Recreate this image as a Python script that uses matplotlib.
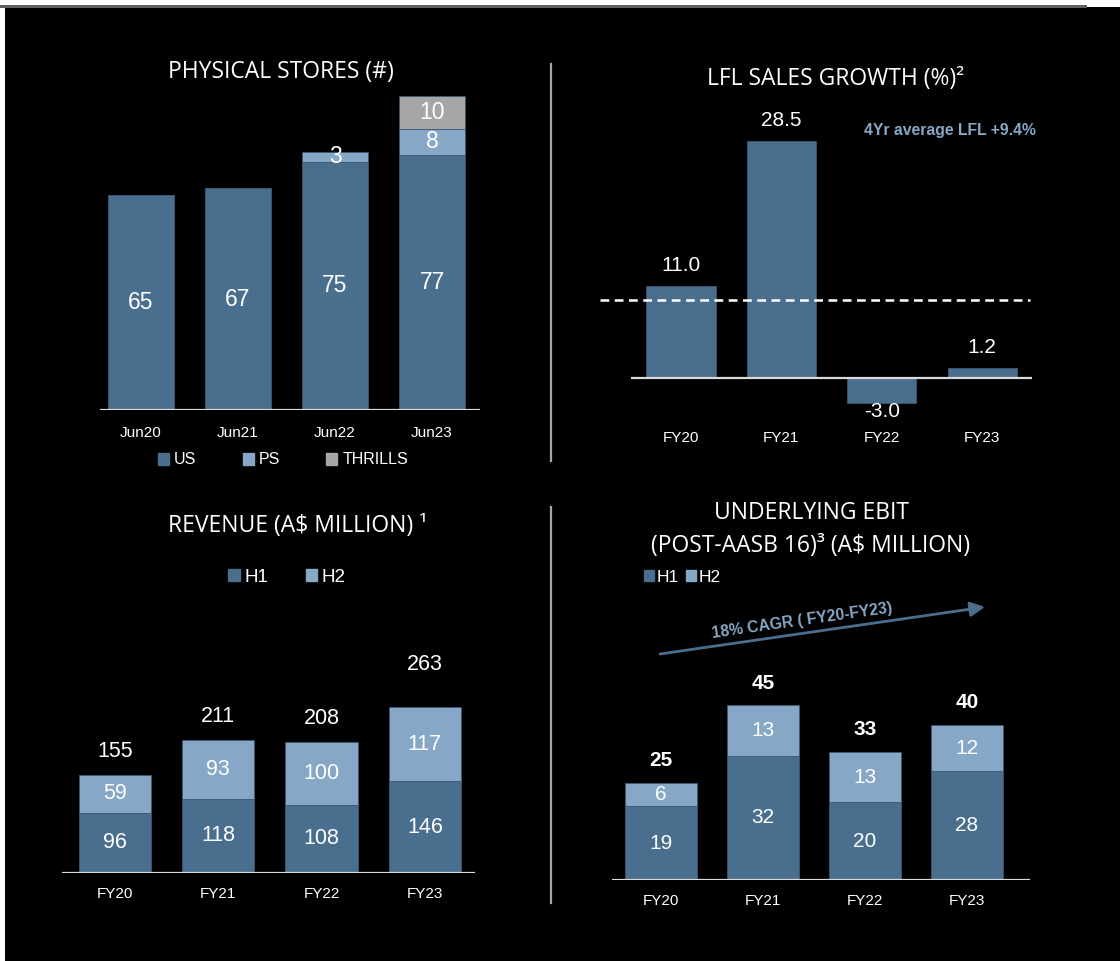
import matplotlib
matplotlib.use("Agg")
import matplotlib.pyplot as plt
import matplotlib.transforms as mtransforms
from matplotlib.patches import Patch, Rectangle
from matplotlib.lines import Line2D

# ---------------- data ----------------
store_periods = ["Jun20", "Jun21", "Jun22", "Jun23"]
stores_us = [65, 67, 75, 77]
stores_ps = [0, 0, 3, 8]
stores_thrills = [0, 0, 0, 10]

lfl_years = ["FY20", "FY21", "FY22", "FY23"]
lfl_growth = [11.0, 28.5, -3.0, 1.2]
lfl_avg = 9.4

rev_years = ["FY20", "FY21", "FY22", "FY23"]
rev_h1 = [96, 118, 108, 146]
rev_h2 = [59, 93, 100, 117]
rev_total = [155, 211, 208, 263]

ebit_years = ["FY20", "FY21", "FY22", "FY23"]
ebit_h1 = [19, 32, 20, 28]
ebit_h2 = [6, 13, 13, 12]
ebit_total = [25, 45, 33, 40]

# ---------------- style ----------------
W, H = 1120, 961
DARK = "#4a6e8e"
LIGHT = "#86a8c6"
GREY = "#a6a6a6"
EDGE = "#3b5873"
ACCENT = "#86a8c6"
TITLE_FONT = ["Open Sans", "DejaVu Sans"]
NUM_FONT = ["Liberation Sans", "DejaVu Sans"]
TITLE_SIZE = 16.5

plt.rcParams["font.family"] = NUM_FONT

fig = plt.figure(figsize=(W / 100, H / 100), dpi=100)
fig.patch.set_facecolor("white")
fig.add_artist(Rectangle((5 / W, 0), 1 - 5 / W, 1 - 7 / H, transform=fig.transFigure,
                         facecolor="black", edgecolor="none", zorder=0))
fig.add_artist(Line2D([0, 1085 / W], [1 - 5.5 / H, 1 - 5.5 / H], transform=fig.transFigure,
                      color="#5f5f5f", lw=2.2))


def fy(ypx):
    return 1 - ypx / H


def px_axes(x0, y0, x1, y1):
    ax = fig.add_axes([x0 / W, 1 - y1 / H, (x1 - x0) / W, (y1 - y0) / H])
    ax.set_facecolor("none")
    for s in ax.spines.values():
        s.set_visible(False)
    ax.set_xticks([])
    ax.set_yticks([])
    return ax


def cat_labels(ax, labels, ypx, size=11):
    tr = mtransforms.blended_transform_factory(ax.transData, fig.transFigure)
    for i, lab in enumerate(labels):
        ax.text(i, fy(ypx), lab, transform=tr, ha="center", va="center",
                color="white", fontsize=size, family=NUM_FONT)


def title(xpx, ypx, s, size=TITLE_SIZE):
    fig.text(xpx / W, fy(ypx), s, ha="center", va="center", color="white",
             fontsize=size, family=TITLE_FONT)


def vline(xpx, y0, y1):
    fig.add_artist(Line2D([xpx / W, xpx / W], [fy(y0), fy(y1)], transform=fig.transFigure,
                          color=GREY, lw=1.6))


vline(551, 64, 461)
vline(551, 507, 903)

# ---------------- Panel 1: physical stores ----------------
scale1 = 3.31  # px per store
c0, sp = 141, 97
ax1 = px_axes(100, 60, 480, 410)
ax1.set_xlim((100 - c0) / sp, (480 - c0) / sp)
ax1.set_ylim(0, (410 - 60) / scale1)
x = list(range(len(store_periods)))
bw = 0.69
ax1.bar(x, stores_us, width=bw, color=DARK, edgecolor=EDGE, lw=0.6)
bottom_ps = stores_us
ax1.bar(x, stores_ps, width=bw, bottom=bottom_ps, color=LIGHT, edgecolor=EDGE, lw=0.6)
bottom_th = [a + b for a, b in zip(stores_us, stores_ps)]
ax1.bar(x, stores_thrills, width=bw, bottom=bottom_th, color=GREY, edgecolor=EDGE, lw=0.6)
ax1.axhline(0, color="#d9d9d9", lw=1.6)
VS1 = 16.5
for i in x:
    ax1.text(i, stores_us[i] / 2, str(stores_us[i]), ha="center", va="center", color="white", fontsize=VS1)
    if stores_ps[i]:
        ax1.text(i, bottom_ps[i] + stores_ps[i] / 2, str(stores_ps[i]), ha="center", va="center",
                 color="white", fontsize=VS1)
    if stores_thrills[i]:
        ax1.text(i, bottom_th[i] + stores_thrills[i] / 2, str(stores_thrills[i]), ha="center",
                 va="center", color="white", fontsize=VS1)
cat_labels(ax1, store_periods, 433)
fig.legend(handles=[Patch(color=DARK, label="US"), Patch(color=LIGHT, label="PS"),
                    Patch(color=GREY, label="THRILLS")],
           loc="center", bbox_to_anchor=(283 / W, fy(460)), ncol=3, frameon=False,
           fontsize=11.5, handlelength=0.7, handleheight=0.7, handletextpad=0.3,
           columnspacing=2.9, labelcolor="white")
title(281, 72, "PHYSICAL STORES (#)")

# ---------------- Panel 2: LFL growth ----------------
scale2 = 8.32
c0, sp = 681, 100.4
ax2 = px_axes(600, 90, 1035, 430)
ax2.set_xlim((600 - c0) / sp, (1035 - c0) / sp)
ax2.set_ylim(-(430 - 378) / scale2, (378 - 90) / scale2)
x = list(range(len(lfl_years)))
ax2.bar(x, lfl_growth, width=0.69, color=DARK, edgecolor=EDGE, lw=0.6)
ax2.hlines(0, (631 - c0) / sp, (1032 - c0) / sp, color="#d9d9d9", lw=1.6)
ax2.hlines(lfl_avg, (600 - c0) / sp, (1030 - c0) / sp, color="white", lw=1.8,
           linestyles=(0, (3.5, 2.2)))
for i, v in enumerate(lfl_growth):
    if v >= 0:
        ax2.annotate(f"{v:.1f}", (i, v), xytext=(0, 8), textcoords="offset points",
                     ha="center", va="bottom", color="white", fontsize=15)
    else:
        ax2.annotate(f"{v:.1f}", (i, v), xytext=(0, 1), textcoords="offset points",
                     ha="center", va="top", color="white", fontsize=15)
cat_labels(ax2, lfl_years, 438)
fig.text(950 / W, fy(131), f"4Yr average LFL +{lfl_avg}%", ha="center", va="center",
         color=ACCENT, fontsize=11.3, fontweight="bold", family=NUM_FONT)
title(836, 79, "LFL SALES GROWTH (%)²")

# ---------------- Panel 3: revenue ----------------
scale3 = 0.63
c0, sp = 115, 103.3
ax3 = px_axes(62, 600, 475, 873)
ax3.set_xlim((62 - c0) / sp, (475 - c0) / sp)
ax3.set_ylim(0, (873 - 600) / scale3)
x = list(range(len(rev_years)))
ax3.bar(x, rev_h1, width=0.70, color=DARK, edgecolor=EDGE, lw=0.6)
ax3.bar(x, rev_h2, width=0.70, bottom=rev_h1, color=LIGHT, edgecolor=EDGE, lw=0.6)
ax3.axhline(0, color="#d9d9d9", lw=1.6)
rev_total_offsets = [17, 17, 17, 31]  # points above bar top
for i in x:
    ax3.text(i, rev_h1[i] / 2, str(rev_h1[i]), ha="center", va="center", color="white", fontsize=15.5)
    ax3.text(i, rev_h1[i] + rev_h2[i] / 2, str(rev_h2[i]), ha="center", va="center",
             color="white", fontsize=15.5)
    ax3.annotate(str(rev_total[i]), (i, rev_h1[i] + rev_h2[i]), xytext=(0, rev_total_offsets[i]),
                 textcoords="offset points", ha="center", va="center", color="white", fontsize=15.5)
cat_labels(ax3, rev_years, 894)
title(298, 526, "REVENUE (A$ MILLION) ¹")
fig.legend(handles=[Patch(color=DARK, label="H1"), Patch(color=LIGHT, label="H2")],
           loc="center", bbox_to_anchor=(287 / W, fy(577)), ncol=2, frameon=False,
           fontsize=13.5, handlelength=0.6, handleheight=0.6, handletextpad=0.25,
           columnspacing=2.0, labelcolor="white")

# ---------------- Panel 4: EBIT ----------------
scale4 = 3.88
c0, sp = 661, 102
ax4 = px_axes(612, 600, 1030, 880)
ax4.set_xlim((612 - c0) / sp, (1030 - c0) / sp)
ax4.set_ylim(0, (880 - 600) / scale4)
x = list(range(len(ebit_years)))
ax4.bar(x, ebit_h1, width=0.70, color=DARK, edgecolor=EDGE, lw=0.6)
ax4.bar(x, ebit_h2, width=0.70, bottom=ebit_h1, color=LIGHT, edgecolor=EDGE, lw=0.6)
ax4.axhline(0, color="#d9d9d9", lw=1.6)
for i in x:
    ax4.text(i, ebit_h1[i] / 2, str(ebit_h1[i]), ha="center", va="center", color="white", fontsize=15)
    ax4.text(i, ebit_h1[i] + ebit_h2[i] / 2, str(ebit_h2[i]), ha="center", va="center",
             color="white", fontsize=15)
    ax4.annotate(str(ebit_total[i]), (i, ebit_h1[i] + ebit_h2[i]), xytext=(0, 16),
                 textcoords="offset points", ha="center", va="center", color="white",
                 fontsize=15, fontweight="bold")
cat_labels(ax4, ebit_years, 901)
title(811, 513, "UNDERLYING EBIT")
title(811, 546, "(POST-AASB 16)³ (A$ MILLION)")
fig.legend(handles=[Patch(color=DARK, label="H1"), Patch(color=LIGHT, label="H2")],
           loc="center left", bbox_to_anchor=(628 / W, fy(577)), ncol=2, frameon=False,
           fontsize=12.5, handlelength=0.6, handleheight=0.6, handletextpad=0.15,
           columnspacing=0.4, labelcolor="white")
ax4.annotate("", xy=(985, H - 607), xytext=(660, H - 654), xycoords="figure pixels",
             textcoords="figure pixels",
             arrowprops=dict(arrowstyle="-|>", color=DARK, lw=2, mutation_scale=22,
                             shrinkA=0, shrinkB=0))
fig.text(802 / W, fy(621), "18% CAGR ( FY20-FY23)", ha="center", va="center", rotation=8.1,
         rotation_mode="anchor", color=ACCENT, fontsize=11.3, fontweight="bold", family=NUM_FONT)

fig.savefig("out.png", dpi=100, facecolor=fig.get_facecolor())
